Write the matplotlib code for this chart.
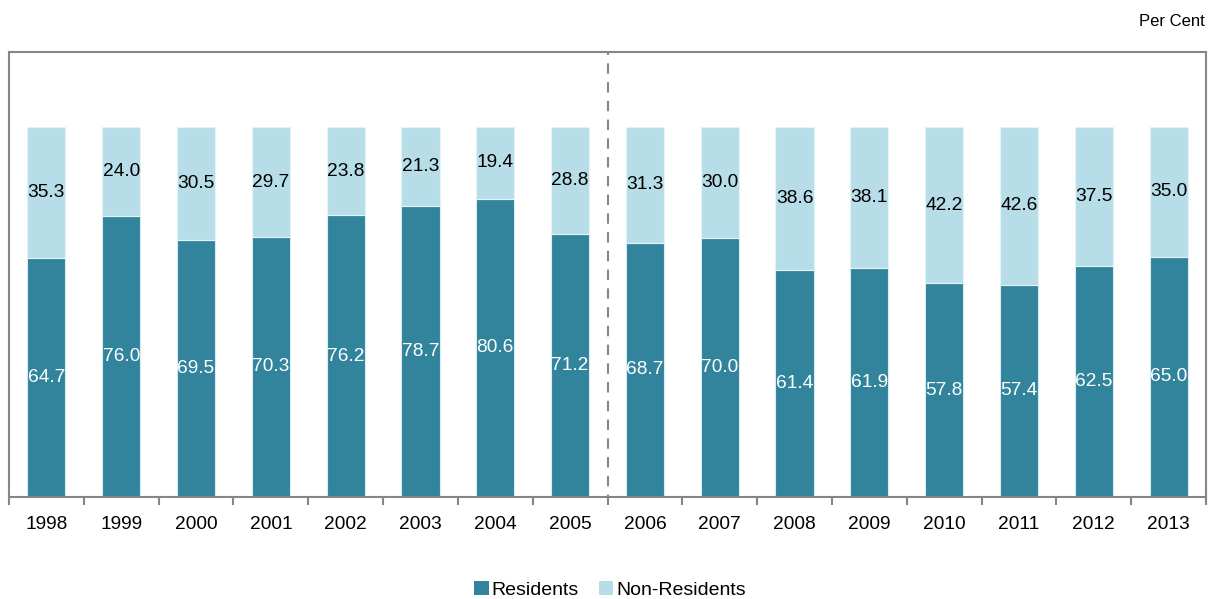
import matplotlib
matplotlib.use("Agg")
import matplotlib.pyplot as plt
from matplotlib.patches import Patch
import numpy as np

plt.rcParams['font.family'] = ['Liberation Sans', 'DejaVu Sans']

years = ["1998", "1999", "2000", "2001", "2002", "2003", "2004", "2005",
         "2006", "2007", "2008", "2009", "2010", "2011", "2012", "2013"]
residents = [64.7, 76.0, 69.5, 70.3, 76.2, 78.7, 80.6, 71.2,
             68.7, 70.0, 61.4, 61.9, 57.8, 57.4, 62.5, 65.0]
non_residents = [35.3, 24.0, 30.5, 29.7, 23.8, 21.3, 19.4, 28.8,
                 31.3, 30.0, 38.6, 38.1, 42.2, 42.6, 37.5, 35.0]

RES_COLOR = "#31849B"
NONRES_COLOR = "#B7DEE8"
FRAME = "#868686"

fig = plt.figure(figsize=(12.2, 5.99), dpi=100)
ax = fig.add_axes([9 / 1220, 1 - 497 / 599, (1206 - 9) / 1220, (497 - 52) / 599])

x = np.arange(len(years))
w = 0.51
ax.bar(x, residents, width=w, color=RES_COLOR, edgecolor="#D6ECF2", linewidth=0.8, zorder=2)
ax.bar(x, non_residents, width=w, bottom=residents, color=NONRES_COLOR,
       edgecolor="#E4F3F7", linewidth=0.8, zorder=2)

for xi, r, n in zip(x, residents, non_residents):
    ax.text(xi, r / 2, f"{r:.1f}", ha="center", va="center", color="white", fontsize=13.8, zorder=3)
    ax.text(xi, r + n / 2, f"{n:.1f}", ha="center", va="center", color="black", fontsize=13.8, zorder=3)

ax.set_xlim(-0.5, len(years) - 0.5)
ax.set_ylim(0, 120.3)

# Break between the two series periods
ax.plot([7.5, 7.5], [-2.2, 120.3], color=FRAME, lw=1.5, ls=(0, (5, 4)), clip_on=False, zorder=4)

ax.set_yticks([])
ax.set_xticks(x)
ax.set_xticklabels(years, fontsize=13.8)
ax.tick_params(axis="x", length=0, pad=14)
ax.set_xticks(np.arange(-0.5, len(years), 1.0), minor=True)
ax.tick_params(axis="x", which="minor", length=6, width=1.5, color=FRAME, direction="out")

for s in ax.spines.values():
    s.set_color(FRAME)
    s.set_linewidth(1.5)

fig.text(1205 / 1220, 1 - 21 / 599, "Per Cent", ha="right", va="center", fontsize=12)

handles = [Patch(facecolor=RES_COLOR, edgecolor="none", label="Residents"),
           Patch(facecolor=NONRES_COLOR, edgecolor="none", label="Non-Residents")]
fig.legend(handles=handles, loc="center", bbox_to_anchor=(0.5, 1 - 590 / 599), ncol=2,
           frameon=False, fontsize=14, handlelength=0.75, handleheight=0.75,
           handletextpad=0.15, columnspacing=1.0)

fig.savefig("out.png", dpi=100)
